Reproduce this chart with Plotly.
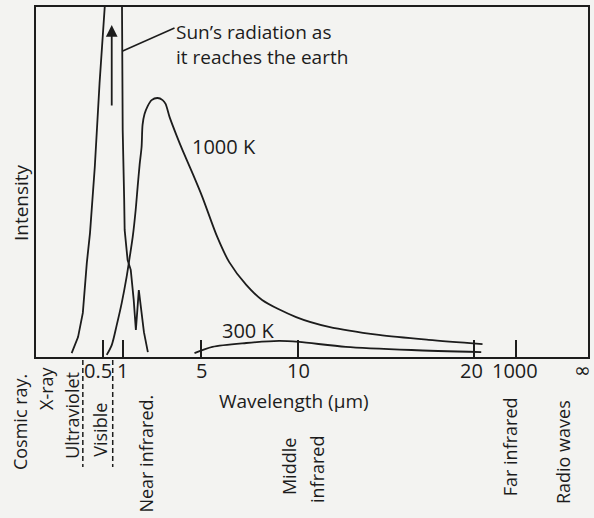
import numpy as np
import plotly.graph_objects as go

# ---------------- data (wavelength in µm, relative intensity) ----------------
sun_wavelength = [0.11, 0.19, 0.25, 0.30, 0.34, 0.40, 0.46, 0.55, 0.645, 0.975,
                  0.9875, 1.0, 1.076, 1.10, 1.25, 1.41, 1.56, 1.67, 1.82, 1.97, 2.08, 2.28]
sun_intensity = [1.1, 5.7, 12.6, 26.9, 35.4, 54.3, 78.3, 100.0, 116.0, 116.0,
                 100.0, 64.9, 44.9, 36.3, 27.7, 24.9, 16.3, 7.7, 19.1, 12.0, 7.1, 1.4]

k1000_wavelength = [0.6, 0.725, 0.85, 0.975, 1.20, 1.35, 1.51, 1.66, 1.76, 1.86, 1.96,
                    2.01, 2.11, 2.27, 2.47, 2.77, 3.03, 3.18, 3.38, 3.73, 4.04, 4.54,
                    5.05, 5.82, 6.44, 7.32, 8.14, 9.90, 11.75, 14.58, 17.40, 210]
k1000_intensity = [0.6, 3.4, 9.1, 15.4, 22.9, 28.3, 34.3, 42.0, 48.6, 54.9, 60.0,
                   66.3, 69.4, 71.7, 73.4, 74.0, 73.4, 72.3, 68.6, 63.4, 59.1, 52.6,
                   45.7, 34.3, 27.1, 20.6, 16.3, 11.4, 8.6, 6.3, 4.9, 3.7]

k300_wavelength = [4.65, 5.57, 7.32, 9.02, 10.06, 12.71, 16.44, 180]
k300_intensity = [1.1, 2.9, 4.0, 4.6, 4.3, 2.9, 2.0, 1.4]

tick_values = [0.5, 1, 5, 10, 20, 1000]
tick_labels = ["0.5", "1", "5", "10", "20", "1000"]

region_labels = ["Cosmic ray.", "X-ray", "Ultraviolet", "Visible", "Near infrared.",
                 "Middle", "infrared", "Far infrared", "Radio waves"]

# ---------------- broken (piecewise) wavelength scale ----------------
SCALE_LAM = [0, 0.5, 1, 5, 10, 20, 1000]
SCALE_POS = [63, 103, 123, 202, 299, 476, 518]

PLOT_LEFT, PLOT_RIGHT = 36, 590
PLOT_TOP, PLOT_BOTTOM = 7, 357


def pos(lam):
    return np.interp(np.asarray(lam, dtype=float), SCALE_LAM, SCALE_POS)


def px(pixel_x):  # figure pixel column -> paper coordinate
    return (pixel_x - PLOT_LEFT) / (PLOT_RIGHT - PLOT_LEFT)


def py(pixel_y):  # figure pixel row -> paper coordinate
    return (PLOT_BOTTOM - pixel_y) / (PLOT_BOTTOM - PLOT_TOP)


INK = "#1c1c1c"
BG = "#f3f3f1"
FONT = "Open Sans"
FS = 18

fig = go.Figure()
fig.add_trace(go.Scatter(x=pos(sun_wavelength), y=sun_intensity, mode="lines",
                         line=dict(color=INK, width=1.8), name="Sun", hoverinfo="skip"))
fig.add_trace(go.Scatter(x=pos(k1000_wavelength), y=k1000_intensity, mode="lines",
                         line=dict(color=INK, width=1.8, shape="spline", smoothing=0.8),
                         name="1000 K", hoverinfo="skip"))
fig.add_trace(go.Scatter(x=pos(k300_wavelength), y=k300_intensity, mode="lines",
                         line=dict(color=INK, width=1.8, shape="spline", smoothing=0.8),
                         name="300 K", hoverinfo="skip"))

ann = []
tf = dict(family=FONT, size=FS, color=INK)
tf_big = dict(family=FONT, size=20, color=INK)
tf_mid = dict(family=FONT, size=19, color=INK)

# tick labels
label_shift = [-5, 0, 0, 0, -3, -1]
for v, t, s in zip(tick_values, tick_labels, label_shift):
    ann.append(dict(x=px(float(pos(v))), y=py(370), xref="paper", yref="paper", text=t,
                    showarrow=False, font=tf_big, xanchor="center", yanchor="middle",
                    xshift=s))
# infinity label sits at the very right edge of the figure
ann.append(dict(x=px(594), y=py(370), xref="paper", yref="paper", text="∞",
                showarrow=False, font=dict(family="DejaVu Sans", size=20, color=INK),
                xanchor="right", yanchor="middle", borderpad=0))

# axis titles
ann.append(dict(x=px(295), y=py(401), xref="paper", yref="paper", text="Wavelength (μm)",
                showarrow=False, font=tf_mid, xanchor="center", yanchor="middle"))
ann.append(dict(x=px(21), y=py(203), xref="paper", yref="paper", text="Intensity",
                textangle=-90, showarrow=False, font=tf_mid, xanchor="center",
                yanchor="middle"))

# spectral region labels (vertical)
region_xy = [(20, 422), (46, 388), (72, 415), (100, 430), (146, 454),
             (290, 467), (318, 469), (512, 447), (565, 452)]
for t, (x, y) in zip(region_labels, region_xy):
    ann.append(dict(x=px(x), y=py(y), xref="paper", yref="paper", text=t, textangle=-90,
                    showarrow=False, font=tf, xanchor="center", yanchor="middle"))

# curve labels
ann.append(dict(x=px(191), y=py(146), xref="paper", yref="paper", text="1000 K",
                showarrow=False, font=tf_big, xanchor="left", yanchor="middle"))
ann.append(dict(x=px(221), y=py(330), xref="paper", yref="paper", text="300 K",
                showarrow=False, font=tf_big, xanchor="left", yanchor="middle"))
ann.append(dict(x=px(175), y=py(17), xref="paper", yref="paper",
                text="Sun’s radiation as<br>it reaches the earth",
                showarrow=False, font=tf_mid, xanchor="left", yanchor="top", align="left"))

# upward arrow beside the Sun curve (tail 82 px below the head)
ann.append(dict(x=px(112), y=py(25), xref="paper", yref="paper",
                ax=0, ay=82, axref="pixel", ayref="pixel", text="", showarrow=True,
                arrowhead=2, arrowsize=1.3, arrowwidth=1.8, arrowcolor=INK, standoff=0))

shapes = [
    # leader line to the Sun annotation
    dict(type="line", xref="paper", yref="paper", x0=px(123), y0=py(51), x1=px(175),
         y1=py(28), line=dict(color=INK, width=1.5)),
    # dashed separators around the visible band
    dict(type="line", xref="paper", yref="paper", x0=px(83), x1=px(83), y0=py(360),
         y1=py(467), line=dict(color=INK, width=1.5, dash="5px,3px")),
    dict(type="line", xref="paper", yref="paper", x0=px(113), x1=px(113), y0=py(360),
         y1=py(467), line=dict(color=INK, width=1.5, dash="5px,3px")),
]

fig.update_layout(
    width=594, height=518,
    margin=dict(l=PLOT_LEFT, r=594 - PLOT_RIGHT, t=PLOT_TOP, b=518 - PLOT_BOTTOM, pad=0),
    paper_bgcolor=BG, plot_bgcolor=BG,
    showlegend=False,
    annotations=ann, shapes=shapes,
    font=tf,
)
fig.update_xaxes(range=[PLOT_LEFT, PLOT_RIGHT], showgrid=False, zeroline=False,
                 showline=True, mirror=True, linecolor=INK, linewidth=2,
                 tickvals=[float(v) for v in pos(tick_values)], ticks="inside",
                 ticklen=17, tickwidth=1.5, tickcolor=INK, showticklabels=False)
fig.update_yaxes(range=[0, 100], showgrid=False, zeroline=False,
                 showline=True, mirror=True, linecolor=INK, linewidth=2,
                 showticklabels=False, ticks="")

fig.write_html("out.html")
